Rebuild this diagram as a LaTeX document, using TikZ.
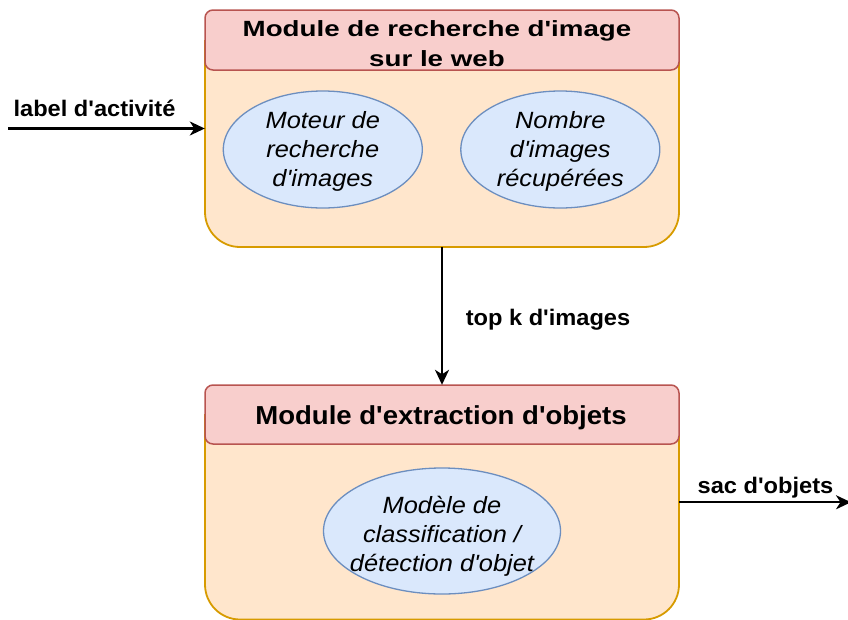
\documentclass[tikz,border=0pt]{standalone}
\usepackage{fontspec}
\setmainfont{Liberation Sans}
\newfontfamily\headAfont{Liberation Sans}[FakeStretch=1.26]
\newfontfamily\headBfont{Liberation Sans}[FakeStretch=1.06]
\newfontfamily\ovalfont{Liberation Sans}[FakeStretch=1.08]
\newfontfamily\tagfont{Liberation Sans}[FakeStretch=1.05]
\usetikzlibrary{arrows.meta,shapes.geometric}

\definecolor{hdrfill}{HTML}{F8CECC}
\definecolor{hdrline}{HTML}{B85450}
\definecolor{bodyfill}{HTML}{FFE6CC}
\definecolor{bodyline}{HTML}{D79B00}
\definecolor{ovalfill}{HTML}{DAE8FC}
\definecolor{ovalline}{HTML}{6C8EBF}

\tikzset{
  headbox/.style={draw=hdrline, fill=hdrfill, line width=1.5pt, rounded corners=8pt,
    minimum width=474pt, inner sep=0pt, align=center},
  bodybox/.style={draw=bodyline, fill=bodyfill, line width=1.8pt, rounded corners=35pt},
  frame/.style={inner sep=0pt, minimum width=474pt},
  oval/.style={ellipse, draw=ovalline, fill=ovalfill, line width=1.3pt, inner sep=0pt},
  ovaltext/.style={align=center, inner sep=0pt,
    font=\ovalfont\itshape\fontsize{23.5}{29}\selectfont},
  flow/.style={-{Stealth[length=15pt,width=14pt,inset=4.5pt]}, line width=2.2pt, draw=black},
  tag/.style={anchor=base, inner sep=0pt, font=\tagfont\bfseries\fontsize{22.5}{27}\selectfont}
}

\begin{document}
\begin{tikzpicture}[x=1pt,y=-1pt]
\useasboundingbox (0,0) rectangle (848,619);

% --- upper module: web image search ---
\fill[bodyfill, bodybox] (205,40) -- (205,247) -- (679,247) -- (679,40);
\node[frame, minimum height=237pt] (m1) at (442,128.5) {};
\node[headbox, minimum height=60pt] (h1) at (442,40) {};
\node[align=center, inner sep=0pt,
      font=\headAfont\bfseries\fontsize{22}{30}\selectfont] (ht1) at (437,43.5)
  {Module de recherche d'image\\sur le web};
\node[oval, minimum width=199pt, minimum height=117pt] (e1) at (322.8,149.5) {};
\node[ovaltext] (t1) at ([yshift=-1.5pt]e1.center) {Moteur de\\recherche\\d'images};
\node[oval, minimum width=199pt, minimum height=117pt] (e2) at (560.3,149.5) {};
\node[ovaltext] (t2) at ([yshift=-1.5pt]e2.center) {Nombre\\d'images\\récupérées};

% --- lower module: object extraction ---
\fill[bodyfill, bodybox] (205,414) -- (205,619.5) -- (679,619.5) -- (679,414);
\node[frame, minimum height=234.5pt] (m2) at (442,502.25) {};
\node[headbox, minimum height=59pt] (h2) at (442,414.5) {};
\node[inner sep=0pt, font=\headBfont\bfseries\fontsize{26}{31}\selectfont] (ht2)
  at (441,417.5) {Module d'extraction d'objets};
\node[oval, minimum width=237pt, minimum height=126pt] (e3) at (442,531) {};
\node[ovaltext] (t3) at ([yshift=-5pt]e3.center) {Modèle de\\classification /\\détection d'objet};

% --- flows between modules ---
\coordinate (src) at (8,128.5);
\coordinate (dst) at (851,502.25);
\draw[flow] (src) -- (m1.west);
\draw[flow] (m1.south) -- (m2.north);
\draw[flow] (m2.east) -- (dst);

\node[tag] (l1) at (94.5,116.5) {label d'activité};
\node[tag] (l2) at (548,325) {top k d'images};
\node[tag] (l3) at (765.5,493.2) {sac d'objets};
\end{tikzpicture}
\end{document}
